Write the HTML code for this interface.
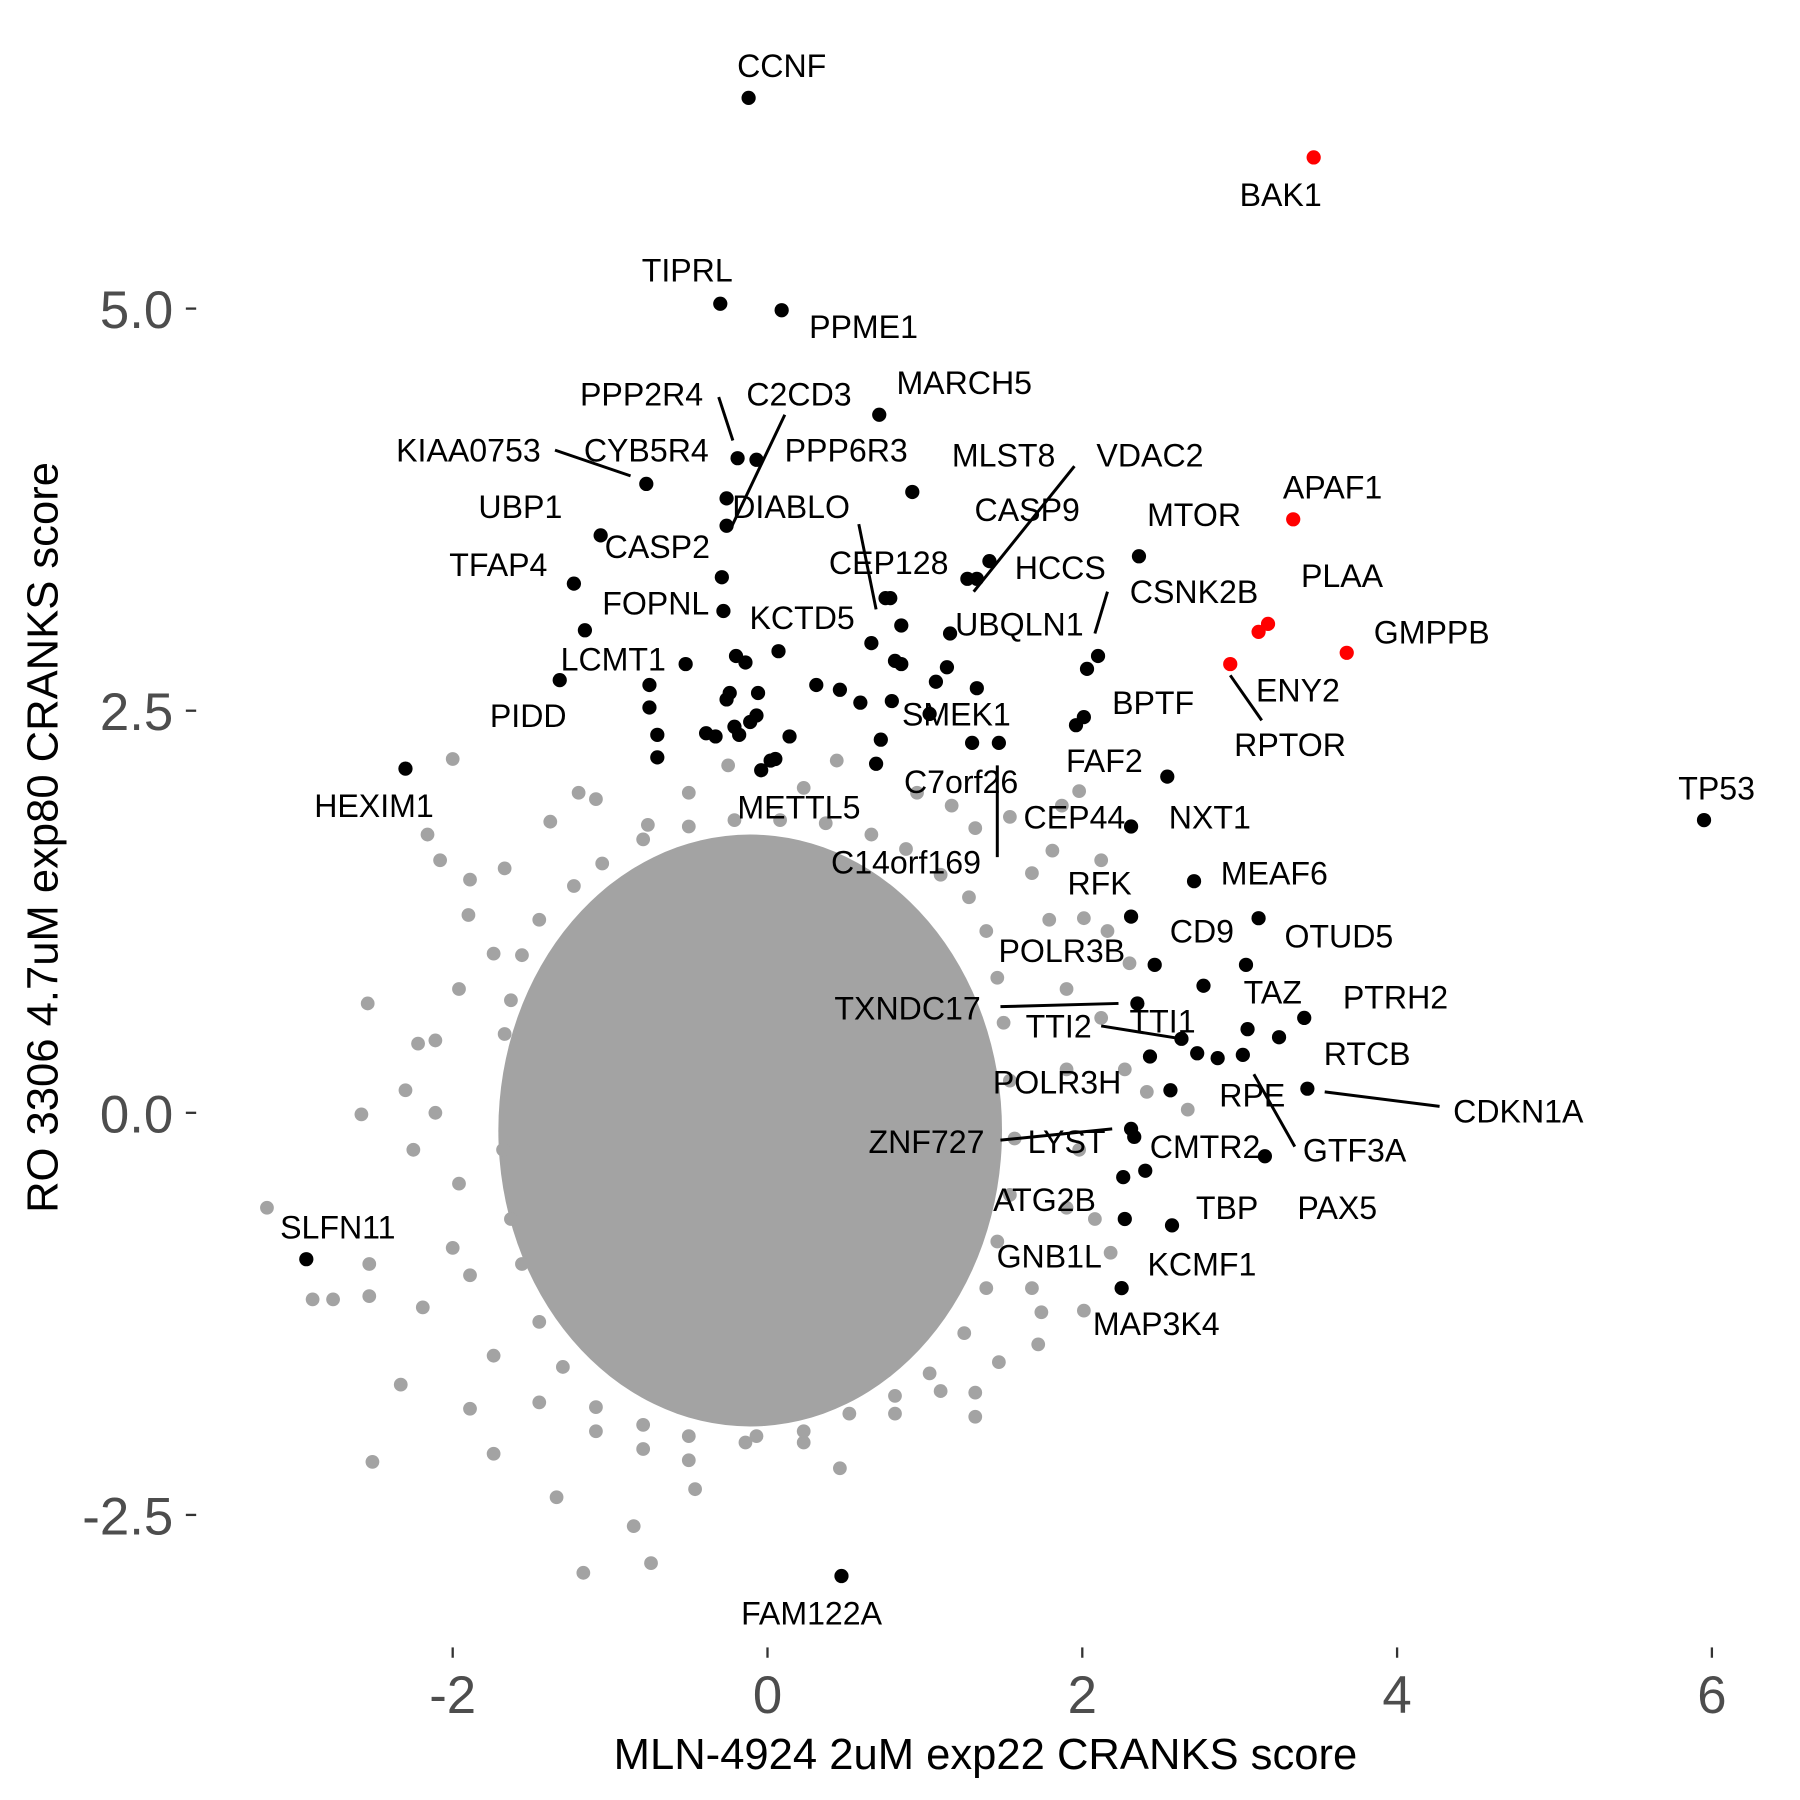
<!DOCTYPE html>
<html><head><meta charset="utf-8"><style>
html,body{margin:0;padding:0;background:#fff;}
svg{display:block;font-family:"Liberation Sans",Arial,sans-serif;}
</style></head><body>
<svg id="chart" width="1800" height="1800" viewBox="0 -2 1569 1569" xmlns="http://www.w3.org/2000/svg">
<rect y="-2" width="1569" height="1569" fill="#fff"/>
<g id="core"></g>
<g id="gray"></g>
<g id="segs"></g>
<g id="hits"></g>
<g id="labs"></g>
<g id="axes"></g>
<text x="859" y="1540" font-size="38" text-anchor="middle" fill="#000">MLN-4924 2uM exp22 CRANKS score</text>
<text transform="translate(50,728) rotate(-90)" font-size="38" text-anchor="middle" fill="#000">RO 3306 4.7uM exp80 CRANKS score</text>
</svg>
<script>
const xTicks=[-2,0,2,4,6];
const yTicks=[-2.5,0,2.5,5];
const yTickLabels=["-2.5","0.0","2.5","5.0"];
const grayX=[-2.00,-2.16,-2.08,-1.89,-1.90,-2.54,-2.22,-2.30,-2.58,-2.11,-3.18,-2.89,-2.76,-2.53,-2.53,-2.19,-2.33,-2.51,-1.89,-1.74,-1.89,-1.34,-1.17,-0.85,-0.74,-0.46,0.46,-0.07,1.32,1.32,1.72,1.74,2.01,2.18,2.08,2.67,2.41,2.27,2.12,2.30,2.16,2.01,2.12,1.81,1.98,1.87,1.54,1.32,1.17,0.95,0.44,0.23,-0.25,-0.50,-0.76,-1.09,-1.20,-1.38,-1.67,-1.74,-1.96,-2.11,-2.25,-1.96,-2.00,-1.74,-1.45,-1.09,-0.79,-0.50,0.23,0.81,1.10,1.47,1.68,1.90,1.98,1.90,1.90,1.79,1.68,
-1.45,-1.56,-1.63,-1.67,-1.68,-1.63,-1.56,-1.45,-1.30,-1.09,-0.79,-0.50,-0.14,0.23,0.52,0.81,1.03,1.25,1.39,1.46,1.54,1.57,1.54,1.50,1.46,1.39,1.28,1.10,0.88,0.66,0.37,0.08,-0.21,-0.50,-0.79,-1.05,-1.23];
const grayY=[2.20,1.73,1.57,1.45,1.23,0.68,0.43,0.14,-0.01,0.00,-0.59,-1.16,-1.16,-1.14,-0.94,-1.21,-1.69,-2.17,-1.84,-2.12,-1.01,-2.39,-2.86,-2.57,-2.80,-2.34,-2.21,-2.01,-1.89,-1.74,-1.44,-1.24,-1.23,-0.87,-0.66,0.02,0.13,0.27,0.59,0.93,1.13,1.21,1.57,1.63,2.00,1.91,1.84,1.77,1.91,1.99,2.19,2.02,2.16,1.99,1.79,1.95,1.99,1.81,1.52,0.99,0.77,0.45,-0.23,-0.44,-0.84,-1.51,-1.80,-1.98,-2.09,-2.16,-2.05,-1.87,-1.73,-1.55,-1.09,-0.59,-0.23,0.27,0.77,1.20,1.49,
1.20,0.98,0.70,0.49,-0.23,-0.66,-0.94,-1.30,-1.58,-1.83,-1.94,-2.01,-2.05,-1.98,-1.87,-1.76,-1.62,-1.37,-1.09,-0.80,-0.51,-0.16,0.20,0.56,0.84,1.13,1.34,1.48,1.64,1.73,1.80,1.82,1.82,1.78,1.70,1.55,1.41];
const blackX=[-0.12,-0.30,0.09,0.71,-0.19,-0.07,-0.77,0.92,-0.26,-0.26,-1.06,2.36,1.41,1.27,1.33,-0.29,-1.23,0.75,0.78,-0.28,0.85,1.16,-1.16,0.66,2.10,0.07,-0.20,-0.14,0.81,0.85,1.14,-0.52,2.03,-0.75,1.07,-1.32,0.31,0.46,-0.24,-0.26,1.33,-0.06,0.79,0.59,-0.75,2.01,1.96,1.03,-0.07,-0.11,-0.70,-0.39,-0.33,-0.21,-0.18,0.14,0.72,1.30,1.47,-0.70,-0.04,0.02,0.05,0.69,-2.30,2.54,5.95,2.31,2.71,2.31,3.12,2.46,3.04,2.77,3.41,2.35,3.05,3.25,2.63,2.43,2.73,2.86,3.02,3.43,2.56,2.31,2.33,2.40,3.16,2.26,2.27,2.57,2.25,-2.93,0.47];
const blackY=[6.31,5.03,4.99,4.34,4.07,4.06,3.91,3.86,3.82,3.65,3.59,3.46,3.43,3.32,3.32,3.33,3.29,3.20,3.20,3.12,3.03,2.98,3.00,2.92,2.84,2.87,2.84,2.80,2.81,2.79,2.77,2.79,2.76,2.66,2.68,2.69,2.66,2.63,2.61,2.57,2.64,2.61,2.56,2.55,2.52,2.46,2.41,2.48,2.47,2.43,2.35,2.36,2.34,2.40,2.35,2.34,2.32,2.30,2.30,2.21,2.13,2.19,2.20,2.17,2.14,2.09,1.82,1.78,1.44,1.22,1.21,0.92,0.92,0.79,0.59,0.68,0.52,0.47,0.46,0.35,0.37,0.34,0.36,0.15,0.14,-0.10,-0.15,-0.36,-0.27,-0.40,-0.66,-0.70,-1.09,-0.91,-2.88];
const redX=[3.47,3.34,3.18,3.12,2.94,3.68];
const redY=[5.94,3.69,3.04,2.99,2.79,2.86];
const labelText=["CCNF","BAK1","TIPRL","PPME1","MARCH5","PPP2R4","C2CD3","KIAA0753","CYB5R4","PPP6R3","MLST8","VDAC2","UBP1","DIABLO","CASP9","MTOR","APAF1","CASP2","TFAP4","CEP128","HCCS","CSNK2B","PLAA","GMPPB","FOPNL","KCTD5","UBQLN1","LCMT1","ENY2","RPTOR","PIDD","BPTF","SMEK1","FAF2","C7orf26","HEXIM1","METTL5","NXT1","CEP44","C14orf169","TP53","RFK","MEAF6","CD9","OTUD5","POLR3B","TAZ","PTRH2","TXNDC17","TTI2","TTI1","RTCB","POLR3H","RPE","CDKN1A","GTF3A","ZNF727","LYST","CMTR2","PAX5","ATG2B","TBP","GNB1L","KCMF1","SLFN11","MAP3K4","FAM122A"];
const labelX=[0.09,3.26,-0.51,0.61,1.25,-0.80,0.20,-1.90,-0.77,0.50,1.50,2.43,-1.57,0.15,1.65,2.71,3.59,-0.70,-1.71,0.77,1.86,2.71,3.65,4.22,-0.71,0.22,1.60,-0.98,3.37,3.32,-1.52,2.45,1.20,2.14,1.23,-2.50,0.20,2.81,1.95,0.88,6.03,2.11,3.22,2.76,3.63,1.87,3.21,3.99,0.89,1.85,2.51,3.81,1.84,3.08,4.77,3.73,1.01,1.90,2.78,3.62,1.76,2.92,1.79,2.76,-2.73,2.47,0.28];
const labelY=[6.51,5.71,5.24,4.89,4.54,4.47,4.47,4.12,4.12,4.12,4.09,4.09,3.77,3.77,3.75,3.72,3.89,3.52,3.41,3.42,3.39,3.24,3.34,2.99,3.17,3.08,3.04,2.82,2.63,2.29,2.47,2.55,2.48,2.19,2.06,1.91,1.90,1.84,1.84,1.56,2.02,1.43,1.49,1.13,1.10,1.01,0.75,0.72,0.65,0.54,0.57,0.37,0.19,0.11,0.01,-0.23,-0.18,-0.18,-0.21,-0.59,-0.54,-0.59,-0.89,-0.94,-0.71,-1.31,-3.11];
const segX1=[-0.31,0.11,-1.35,0.58,1.95,2.16,2.94,1.46,1.48,2.12,3.54,3.09,1.48];
const segY1=[4.45,4.34,4.12,3.66,4.02,3.24,2.72,2.16,0.66,0.54,0.13,0.24,-0.17];
const segX2=[-0.22,-0.23,-0.87,0.69,1.31,2.08,3.14,1.46,2.23,2.63,4.27,3.35,2.19];
const segY2=[4.18,3.64,3.96,3.13,3.24,2.98,2.44,1.59,0.68,0.46,0.04,-0.21,-0.10];

const NS="http://www.w3.org/2000/svg";
const sx=v=>669+v*137.2;
const sy=v=>968-v*140.2;
function mk(tag,parent,attrs){const e=document.createElementNS(NS,tag);for(const k in attrs)e.setAttribute(k,attrs[k]);document.getElementById(parent).appendChild(e);return e;}

const core=mk('ellipse','core',{cx:sx(-0.11),cy:sy(-0.11),rx:1.60*137.2,ry:1.84*140.2,fill:'#a3a3a3'});



for(let i=0;i<grayX.length;i++){
  const c=mk('circle','gray',{cx:sx(grayX[i]),cy:sy(grayY[i]),r:6.0,fill:'#a3a3a3'});
  
  
}
for(let i=0;i<segX1.length;i++){
  const l=mk('line','segs',{x1:sx(segX1[i]),y1:sy(segY1[i]),x2:sx(segX2[i]),y2:sy(segY2[i]),stroke:'#000','stroke-width':2.6});
  
  
}
for(let i=0;i<blackX.length;i++){
  const c=mk('circle','hits',{cx:sx(blackX[i]),cy:sy(blackY[i]),r:6.2,fill:'#000'});
  
  
}
for(let i=0;i<redX.length;i++){
  const c=mk('circle','hits',{cx:sx(redX[i]),cy:sy(redY[i]),r:6.2,fill:'#ff0000'});
  
  
}
for(let i=0;i<labelText.length;i++){
  const t=mk('text','labs',{x:sx(labelX[i]),y:sy(labelY[i])+10,'font-size':28,'text-anchor':'middle',fill:'#000'});
  t.textContent=labelText[i];
  
  
}
for(let i=0;i<xTicks.length;i++){
  const x=sx(xTicks[i]);
  const tk=mk('line','axes',{x1:x,y1:1434,x2:x,y2:1443,stroke:'#333','stroke-width':2});
  
  
  const t=mk('text','axes',{x:x,y:1491,'font-size':46,'text-anchor':'middle',fill:'#4d4d4d'});
  t.textContent=String(xTicks[i]);
  
  
}
for(let i=0;i<yTicks.length;i++){
  const y=sy(yTicks[i]);
  const tk=mk('line','axes',{x1:162,y1:y,x2:171,y2:y,stroke:'#333','stroke-width':2});
  
  
  const t=mk('text','axes',{x:151,y:y+17,'font-size':46,'text-anchor':'end',fill:'#4d4d4d'});
  t.textContent=yTickLabels[i];
  
  
}
</script>
</body></html>
